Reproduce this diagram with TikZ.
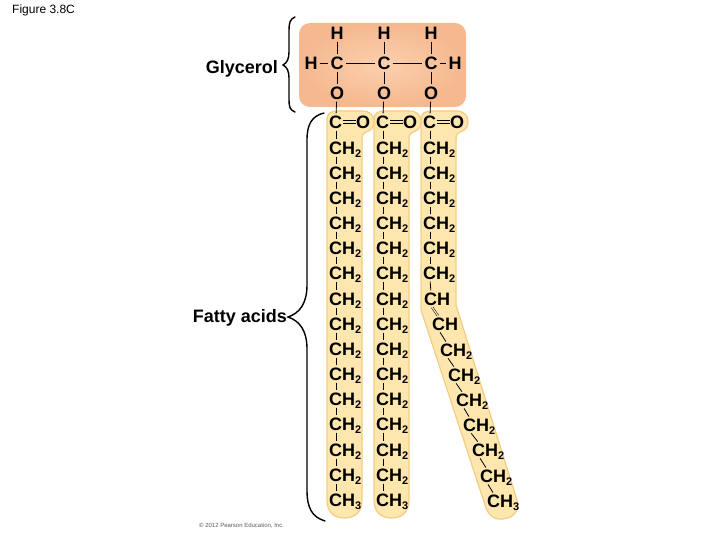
\documentclass[tikz,border=0pt]{standalone}
\usepackage{fontspec}
\setmainfont{Liberation Sans}
\definecolor{bandfill}{HTML}{FEE7AE}
\definecolor{bandedge}{HTML}{F3CD82}
\definecolor{headinner}{HTML}{FBD0AD}
\definecolor{headouter}{HTML}{F5B88F}
\newcommand{\subnum}[1]{\raisebox{-3pt}{\fontsize{11}{11}\selectfont #1}}
\begin{document}
\begin{tikzpicture}[x=1pt, y=-1pt, every node/.style={font=\fontsize{18}{20}\bfseries\selectfont}]
    % Styles
    \tikzstyle{atom} = [anchor=west, inner sep=0pt, text height=13pt, text depth=0pt]
    \tikzstyle{center atom} = [anchor=center, inner sep=0pt, text height=13pt, text depth=0pt]
    \tikzstyle{bond} = [line width=0.8pt, shorten >=2pt, shorten <=2pt]
    \tikzstyle{double bond} = [line width=0.8pt, double=bandfill, double distance=1.5pt, shorten >=0.5pt, shorten <=0.5pt]
    \tikzstyle{band} = [fill=bandfill, draw=bandedge, line width=1.2pt]
    \tikzstyle{brace} = [line width=1.4pt, line cap=round]
    \tikzstyle{caption} = [font=\fontsize{18}{20}\bfseries\selectfont]

    \useasboundingbox (0,0) rectangle (720,540);

    % Backgrounds
    \foreach \dx in {0,47} {
        \draw [band, xshift=\dx] (327,120) .. controls (327,113) and (331,111) .. (338,111) -- (362,111)
            .. controls (370,111) and (374,115) .. (374,122) .. controls (374,128) and (370,131) .. (366,132)
            .. controls (363,133) and (362,135) .. (362,140) -- (362,500)
            .. controls (362,512) and (355,518) .. (344.5,518) .. controls (334,518) and (327,512) .. (327,500) -- cycle;
    }
    \draw [band] (421,120) .. controls (421,113) and (425,111) .. (432,111) -- (456,111)
        .. controls (464,111) and (468,115) .. (468,122) .. controls (468,128) and (464,131) .. (460,132)
        .. controls (457,133) and (456,135) .. (456,140) -- (456,305) -- (517,500)
        .. controls (520,510) and (514,518) .. (503,519) .. controls (495,520) and (488,516) .. (485,505)
        -- (421,310) -- cycle;
    \shade [rounded corners=11pt, inner color=headinner, outer color=headouter] (299,23) rectangle (466,107);

    % Glycerol nodes
    \foreach \x [count=\i] in {337,384,431} {
        \node (topH\i) [center atom] at (\x,33) {H};
        \node (midC\i) [center atom] at (\x,63) {C};
        \node (lowO\i) [center atom] at (\x,93) {O};
        \draw [bond] (topH\i) -- (midC\i);
        \draw [bond] (midC\i) -- (lowO\i);
    }
    \node (leftH) [center atom] at (311,63) {H};
    \node (rightH) [center atom] at (455,63) {H};

    % Fatty acid nodes
    \foreach \x [count=\c] in {329,376,423} {
        \node (acid\c r1) [atom] at (\x,122) {C};
        \node (acidO\c) [atom] at (\x+27,122) {O};
        \draw [double bond] (acid\c r1) -- (acidO\c);
        \draw [bond] (lowO\c) -- ([xshift=7pt]acid\c r1.north west);
    }
    \foreach \x [count=\c] in {329,376} {
        \foreach \y [count=\r from 2] in {148,173,198,223,248,273,299,324,349,374,399,424,450,475} {
            \node (acid\c r\r) [atom] at (\x,\y) {CH\subnum{2}};
        }
        \node (acid\c r16) [atom] at (\x,500) {CH\subnum{3}};
    }
    \foreach \y [count=\r from 2] in {148,173,198,223,248,273} {
        \node (acid3r\r) [atom] at (423,\y) {CH\subnum{2}};
    }
    \node (acid3r8) [atom] at (424,299) {CH};
    \node (acid3r9) [atom] at (432,324) {CH};
    \foreach \x/\y [count=\r from 10] in {440/350,448/375,456/400,463/425,472/450,480/476} {
        \node (acid3r\r) [atom] at (\x,\y) {CH\subnum{2}};
    }
    \node (acid3r16) [atom] at (487,501) {CH\subnum{3}};

    % Bonds
    \draw [bond] (leftH) -- (midC1);
    \draw [bond, line width=0.6pt] (midC1) -- (midC2);
    \draw [bond, line width=0.6pt] (midC2) -- (midC3);
    \draw [bond] (midC3) -- (rightH);
    \foreach \c in {1,2,3} {
        \foreach \r [evaluate=\r as \s using int(\r+1)] in {1,...,15} {
            \ifnum\c\r=38
                \draw [double bond, line width=0.5pt, double distance=1.2pt, shorten >=2pt, shorten <=2pt] ([xshift=7pt]acid\c r\r.south west) -- ([xshift=7pt]acid\c r\s.north west);
            \else
                \draw [bond] ([xshift=7pt]acid\c r\r.south west) -- ([xshift=7pt]acid\c r\s.north west);
            \fi
        }
    }

    % Braces
    \draw [brace] (295,17) .. controls (290,19) and (289,23) .. (289,30) -- (289,52)
        .. controls (289,59) and (287,63) .. (283,65) .. controls (287,67) and (289,71) .. (289,78)
        -- (289,100) .. controls (289,107) and (290,110) .. (295,112);
    \draw [brace] (324,113) .. controls (312,116) and (307,124) .. (307,140) -- (307,285)
        .. controls (307,303) and (300,313) .. (288,317) .. controls (300,321) and (307,331) .. (307,349)
        -- (307,490) .. controls (307,508) and (312,517) .. (325,521);

    % Captions
    \node (glycerolcap) [caption, anchor=east, inner sep=0pt] at (278,69) {Glycerol};
    \node (fattycap) [caption, anchor=east, inner sep=0pt] at (287,318) {Fatty acids};
    \node (figcap) [anchor=west, inner sep=0pt, font=\fontsize{12}{14}\selectfont] at (12,10) {Figure 3.8C};
    \node (credit) [anchor=west, inner sep=0pt, text=black!65, font=\fontsize{6}{7}\selectfont] at (199,526) {© 2012 Pearson Education, Inc.};
\end{tikzpicture}
\end{document}
